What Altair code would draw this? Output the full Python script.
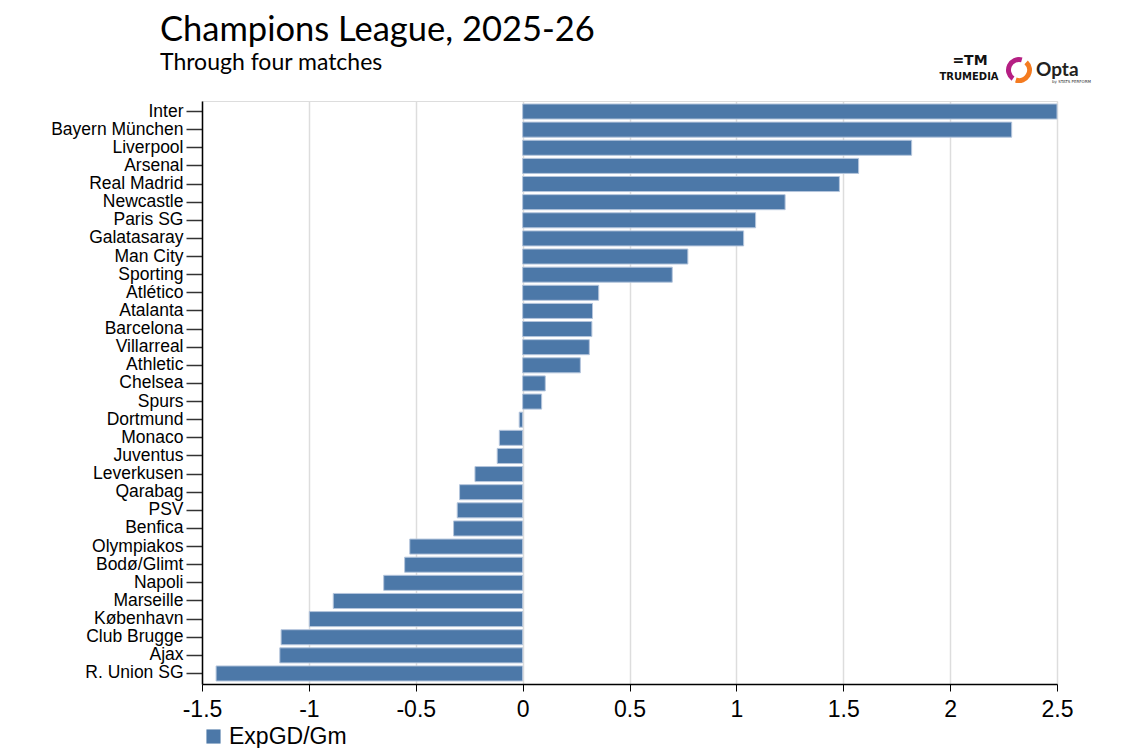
import altair as alt
import pandas as pd

teams = ["Inter", "Bayern München", "Liverpool", "Arsenal", "Real Madrid", "Newcastle",
         "Paris SG", "Galatasaray", "Man City", "Sporting", "Atlético", "Atalanta",
         "Barcelona", "Villarreal", "Athletic", "Chelsea", "Spurs", "Dortmund", "Monaco",
         "Juventus", "Leverkusen", "Qarabag", "PSV", "Benfica", "Olympiakos", "Bodø/Glimt",
         "Napoli", "Marseille", "København", "Club Brugge", "Ajax", "R. Union SG"]
exp_gd = [2.50, 2.288, 1.82, 1.572, 1.482, 1.228, 1.09, 1.034, 0.773, 0.70, 0.356, 0.327,
          0.324, 0.312, 0.27, 0.106, 0.089, -0.016, -0.109, -0.119, -0.223, -0.295, -0.306,
          -0.323, -0.528, -0.552, -0.65, -0.886, -0.998, -1.13, -1.136, -1.434]
series_name = "ExpGD/Gm"
x_ticks = [-1.5, -1, -0.5, 0, 0.5, 1, 1.5, 2, 2.5]

title_text = "Champions League, 2025-26"
subtitle_text = "Through four matches"

AXFONT = "Liberation Sans"

df = pd.DataFrame({"team": teams, "value": exp_gd, "series": [series_name] * len(teams)})

bars = alt.Chart(df).mark_bar(stroke="#b4c5dc", strokeWidth=1).encode(
    x=alt.X("value:Q",
            scale=alt.Scale(domain=[-1.5, 2.5], nice=False, zero=False),
            axis=alt.Axis(values=x_ticks, labelExpr="toString(datum.value)", title=None,
                          grid=True, gridColor="#dddddd", gridWidth=1.5,
                          domainColor="black", domainWidth=1.5, tickColor="black",
                          tickSize=7, labelFontSize=23, labelFont=AXFONT,
                          labelColor="black", labelPadding=7, labelFlush=False)),
    y=alt.Y("team:N", sort=teams,
            scale=alt.Scale(paddingInner=0.17, paddingOuter=0.165),
            axis=alt.Axis(title=None, labelFontSize=17.5, labelFont=AXFONT,
                          labelColor="black", tickSize=16, tickColor="#333333",
                          tickWidth=1.5, domainColor="black", domainWidth=1.5,
                          labelPadding=3, grid=False)),
    color=alt.Color("series:N", scale=alt.Scale(range=["#4c78a8"]),
                    legend=alt.Legend(title=None, orient="none", legendX=0, legendY=624,
                                      symbolType="square", symbolSize=200,
                                      symbolStrokeWidth=0, labelFontSize=23,
                                      labelFont=AXFONT, labelColor="black"))
)

text_df = pd.DataFrame({"title": [title_text], "subtitle": [subtitle_text],
                        "trumedia": ["TRUMEDIA"], "icon": ["=TM"], "opta": ["Opta"],
                        "sp": ["by STATS PERFORM"]})

title_mark = alt.Chart(text_df).mark_text(fontSize=34.5, font="Lato", color="black",
                                          align="left", baseline="alphabetic").encode(
    text="title:N", x=alt.value(-42), y=alt.value(-60))
subtitle_mark = alt.Chart(text_df).mark_text(fontSize=23, font="Lato", color="black",
                                             align="left", baseline="alphabetic").encode(
    text="subtitle:N", x=alt.value(-42), y=alt.value(-31))

tm_text = alt.Chart(text_df).mark_text(fontSize=10, fontWeight="bold", font="DejaVu Sans",
                                       color="#111111").encode(
    text="trumedia:N", x=alt.value(767), y=alt.value(-24))
tm_icon = alt.Chart(text_df).mark_text(fontSize=14, fontWeight="bold", font="DejaVu Sans",
                                       color="#111111").encode(
    text="icon:N", x=alt.value(768), y=alt.value(-40))
arc_left = alt.Chart(text_df).mark_arc(innerRadius=8, outerRadius=13, theta=3.75,
                                       theta2=6.55, color="#b51f83").encode(
    x=alt.value(817), y=alt.value(-31))
arc_right = alt.Chart(text_df).mark_arc(innerRadius=8, outerRadius=13, theta=0.75,
                                        theta2=3.45, color="#f47b20").encode(
    x=alt.value(817), y=alt.value(-31))
opta_text = alt.Chart(text_df).mark_text(fontSize=19, fontWeight="bold", font="Lato",
                                         color="#231f20", align="left").encode(
    text="opta:N", x=alt.value(834), y=alt.value(-31))
sp_text = alt.Chart(text_df).mark_text(fontSize=4, font="DejaVu Sans", color="#333333",
                                       align="left").encode(
    text="sp:N", x=alt.value(850), y=alt.value(-19))

chart = alt.layer(bars, title_mark, subtitle_mark, tm_text, tm_icon, arc_left, arc_right,
                  opta_text, sp_text).properties(
    width=855, height=583,
    autosize=alt.AutoSizeParams(type="none"),
    padding={"left": 194, "top": 93, "right": 60, "bottom": 64},
).configure_view(stroke=None).configure(background="white")

chart.save("out.html", embed_options={"renderer": "svg", "actions": False})
